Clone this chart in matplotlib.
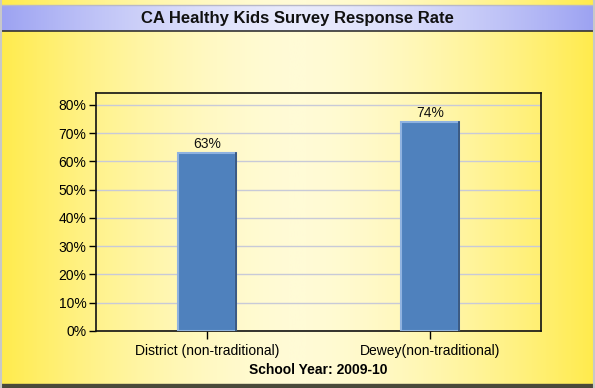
import numpy as np
import matplotlib.pyplot as plt
from matplotlib.colors import LinearSegmentedColormap

plt.rcParams['font.family'] = ['Liberation Sans', 'DejaVu Sans']

categories = ['District (non-traditional)', 'Dewey(non-traditional)']
rates = [63, 74]
yticks = [0, 10, 20, 30, 40, 50, 60, 70, 80]
title = 'CA Healthy Kids Survey Response Rate'
xlabel = 'School Year: 2009-10'

fig = plt.figure(figsize=(5.95, 3.88), dpi=100)

# background: yellow horizontal gradient
bg = fig.add_axes([0, 0, 1, 1], zorder=0)
bg.set_axis_off()
t = np.linspace(-1, 1, 400)
grad = np.abs(t) ** 1.6
yel = LinearSegmentedColormap.from_list('yel', ['#fffbd6', '#ffeb4c'])
bg.imshow(grad[None, :], cmap=yel, aspect='auto', extent=[0, 1, 0, 1])

# title bar: blue gradient
blu = LinearSegmentedColormap.from_list('blu', ['#e8eafd', '#9ca2f2'])
bg.imshow(grad[None, :], cmap=blu, aspect='auto',
          extent=[0, 1, 1 - 31 / 388, 1 - 5 / 388])
bg.axhline(1 - 31 / 388, color='#333333', lw=1.2)
bg.axhline(1 - 5 / 388, color='#b8b8c8', lw=1)
bg.axhspan(0, 4 / 388, color='#4a4a3a')
bg.axvline(0.002, color='#c8c8c8', lw=1.5)
bg.axvline(0.998, color='#c8c8c8', lw=1.5)
bg.set_xlim(0, 1)
bg.set_ylim(0, 1)
fig.text(0.5, 1 - 18 / 388, title, ha='center', va='center',
         fontsize=12, fontweight='bold', color='#111111')

# plot area
ax = fig.add_axes([96 / 595, 1 - 331 / 388, 445 / 595, 238 / 388], zorder=1)
ax.patch.set_alpha(0)
x = np.arange(len(categories))
bars = ax.bar(x, rates, width=0.26, color='#4f81bd', edgecolor='#8fb2e0',
              linewidth=1.5, zorder=3)
for b, v in zip(bars, rates):
    ax.plot([b.get_x() + b.get_width(), b.get_x() + b.get_width()], [0, v],
            color='#2c4a72', lw=1.2, zorder=4)
    ax.text(b.get_x() + b.get_width() / 2, v + 0.6, f'{v}%', ha='center',
            va='bottom', fontsize=10, color='#111111')

ax.set_xlim(-0.5, 1.5)
ax.set_ylim(0, 84.2)
ax.set_yticks(yticks)
ax.set_yticklabels([f'{v}%' for v in yticks], fontsize=10)
ax.set_xticks(x)
ax.set_xticklabels(categories, fontsize=10)
ax.yaxis.grid(True, color='#c8cad8', lw=1)
ax.set_axisbelow(True)
ax.tick_params(direction='out', length=5, width=1, color='black', pad=2)
ax.tick_params(axis='x', length=6, pad=3)
for s in ax.spines.values():
    s.set_color('#111111')
    s.set_linewidth(1.2)
ax.set_xlabel(xlabel, fontsize=10, fontweight='bold', labelpad=4)

fig.savefig('out.png', dpi=100)
